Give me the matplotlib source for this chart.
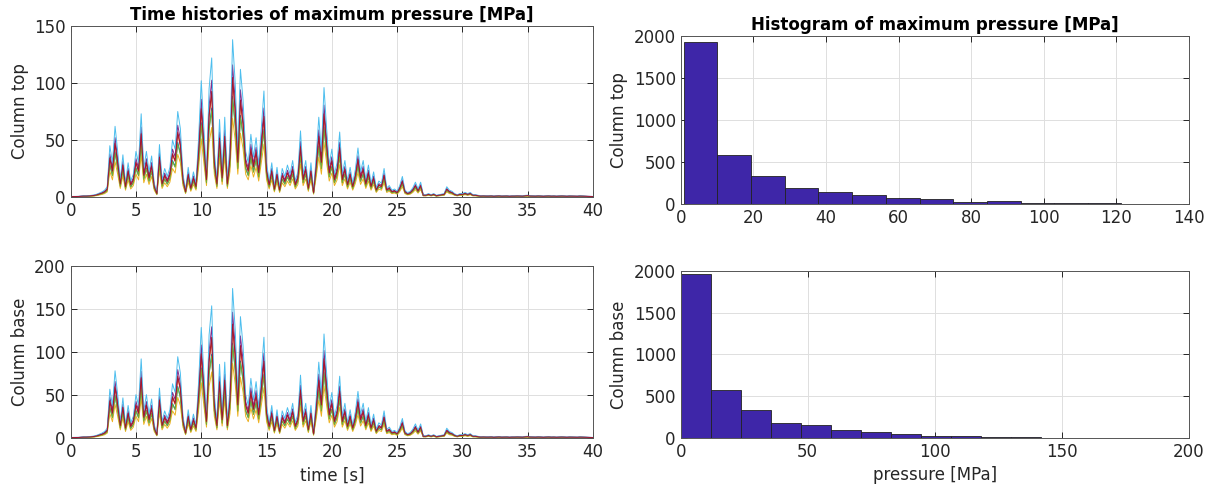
import numpy as np
import matplotlib
matplotlib.use('Agg')
import matplotlib.pyplot as plt

# light-blue (highest) trace of the top panel, sampled every 0.2 s from 0 to 40 s
DT = 0.2
top_peak = [
    0.5, 0.5, 0.5, 0.6, 0.8, 1.0, 1.0, 1.2, 1.5, 1.8,
    2.5, 3.5, 4.5, 6, 9, 45, 30, 62, 40, 15,
    37, 12, 30, 14, 20, 40, 30, 73, 25, 40,
    22, 36, 12, 4, 46, 15, 25, 18, 26, 50,
    42, 75, 60, 20, 6, 26, 10, 22, 12, 52,
    102, 60, 20, 95, 122, 40, 15, 68, 22, 70,
    15, 45, 138, 100, 40, 112, 85, 40, 30, 55,
    35, 52, 28, 60, 93, 30, 14, 30, 9, 26,
    8, 25, 18, 28, 20, 32, 14, 22, 58, 20,
    32, 10, 30, 5, 35, 70, 40, 96, 60, 28,
    42, 20, 30, 57, 20, 32, 14, 26, 12, 24,
    43, 22, 32, 15, 28, 12, 22, 8, 14, 12,
    25, 8, 10, 6, 7, 5, 10, 18, 6, 4,
    5, 8, 13, 7, 13, 2, 2, 3, 2, 3,
    1.5, 2, 2.5, 3, 9, 6, 5, 3, 2, 3,
    3, 4, 3, 4, 2, 2, 1.5, 1, 1.2, 1,
    1, 1.2, 0.8, 1, 1.3, 0.9, 1, 1.1, 0.8, 1,
    1, 1.2, 1, 0.9, 1.4, 1.6, 1.1, 1, 0.9, 1.2,
    1, 0.8, 1, 1.2, 0.9, 1, 0.8, 1, 1.1, 0.9,
    0.8, 1, 0.9, 0.7, 0.8, 1, 0.9, 0.7, 0.6, 0.6,
    0.5,
]

# relative level of each trace (MATLAB colour order), read from the peaks
gains_top = [0.64, 0.74, 0.50, 0.84, 0.62, 1.00, 0.76]
gains_base = [0.80, 0.93, 0.63, 1.06, 0.78, 1.26, 0.96]
line_colors = ['#0072BD', '#D95319', '#EDB120', '#7E2F8E', '#77AC30', '#4DBEEE', '#A2142F']

# histograms
edges_top = [0.8, 10.1, 19.4, 28.6, 37.9, 47.2, 56.5, 65.8, 75.0, 84.3,
             93.6, 102.9, 112.2, 121.4, 130.7, 140.0]
counts_top = [1929, 580, 330, 187, 139, 107, 67, 60, 20, 32, 8, 12, 6, 3, 3]
edges_base = [0.3, 12.1, 23.8, 35.6, 47.4, 59.2, 70.9, 82.7, 94.5, 106.2,
              118.0, 129.8, 141.6, 153.3, 165.1, 176.9]
counts_base = [1966, 569, 334, 183, 151, 96, 68, 52, 20, 28, 8, 12, 4, 4, 3]

BAR_COLOR = '#3E26A8'
TXT = '#262626'
FS = 12

plt.rcParams['font.family'] = 'DejaVu Sans'

fig = plt.figure(figsize=(12.12, 4.88), dpi=100)
ax_tl = fig.add_axes([0.0583, 0.5963, 0.4310, 0.3504])
ax_tr = fig.add_axes([0.5616, 0.5820, 0.4194, 0.3442])
ax_bl = fig.add_axes([0.0583, 0.1025, 0.4310, 0.3524])
ax_br = fig.add_axes([0.5616, 0.1025, 0.4194, 0.3422])


def style(ax):
    ax.grid(True, color='#dedede', lw=0.7)
    ax.set_axisbelow(True)
    ax.tick_params(direction='in', length=4, top=True, right=True,
                   labelsize=FS, colors=TXT, width=0.7)
    for s in ax.spines.values():
        s.set_color('#555555')
        s.set_linewidth(0.7)


t = np.arange(len(top_peak)) * DT
peak = np.array(top_peak)

for ax, gains in [(ax_tl, gains_top), (ax_bl, gains_base)]:
    for g, c in zip(gains, line_colors):
        ax.plot(t, peak * g, color=c, lw=0.7)
    ax.set_xlim(0, 40)
    style(ax)

ax_tl.set_ylim(0, 150)
ax_tl.set_yticks([0, 50, 100, 150])
ax_bl.set_ylim(0, 200)
ax_bl.set_yticks([0, 50, 100, 150, 200])
ax_tl.set_ylabel('Column top', fontsize=FS, color=TXT)
ax_bl.set_ylabel('Column base', fontsize=FS, color=TXT)
ax_bl.set_xlabel('time [s]', fontsize=FS, color=TXT)
ax_tl.set_title('Time histories of maximum pressure [MPa]', fontsize=FS,
                fontweight='bold', color='black', pad=4)

for ax, edges, counts in [(ax_tr, edges_top, counts_top), (ax_br, edges_base, counts_base)]:
    e = np.array(edges)
    ax.bar(e[:-1], counts, width=np.diff(e), align='edge', color=BAR_COLOR,
           edgecolor='#222222', lw=0.6)
    ax.set_ylim(0, 2000)
    ax.set_yticks([0, 500, 1000, 1500, 2000])
    style(ax)

ax_tr.set_xlim(0, 140)
ax_tr.set_xticks(np.arange(0, 141, 20))
ax_br.set_xlim(0, 200)
ax_br.set_xticks([0, 50, 100, 150, 200])
ax_tr.set_ylabel('Column top', fontsize=FS, color=TXT)
ax_br.set_ylabel('Column base', fontsize=FS, color=TXT)
ax_br.set_xlabel('pressure [MPa]', fontsize=FS, color=TXT)
ax_tr.set_title('Histogram of maximum pressure [MPa]', fontsize=FS,
                fontweight='bold', color='black', pad=4)

fig.savefig('out.png', dpi=100)
